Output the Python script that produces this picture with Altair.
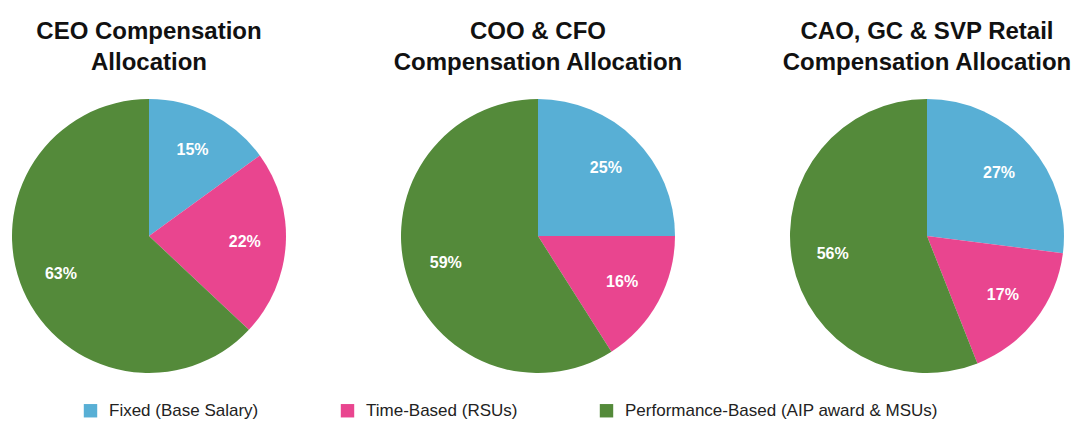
import altair as alt
import pandas as pd

charts = ["ceo", "coo_cfo", "cao_gc_svp"]
titles = [
    "CEO Compensation\nAllocation",
    "COO & CFO\nCompensation Allocation",
    "CAO, GC & SVP Retail\nCompensation Allocation",
]
categories = [
    "Fixed (Base Salary)",
    "Time-Based (RSUs)",
    "Performance-Based (AIP award & MSUs)",
]
colors = ["#58afd5", "#e9458f", "#548a3a"]

fixed = [15, 25, 27]
time_based = [22, 16, 17]
performance = [63, 59, 56]

rows = []
for i, c in enumerate(charts):
    for j, (cat, vals) in enumerate(zip(categories, [fixed, time_based, performance])):
        rows.append({"chart": c, "category": cat, "order": j, "value": vals[i]})
df = pd.DataFrame(rows)
title_df = pd.DataFrame({"chart": charts, "title": titles})

FONT = "Liberation Sans"

xscale = alt.Scale(type="point", domain=charts, range=[141, 919], padding=0)
tscale = alt.Scale(domain=[0, 100], range=[0, 6.283185307179586])

base = (
    alt.Chart(df)
    .transform_window(
        cum="sum(value)", groupby=["chart"], sort=[alt.SortField("order")]
    )
    .transform_calculate(
        start="datum.cum - datum.value",
        mid="datum.cum - datum.value / 2",
        label="datum.value + '%'",
    )
)

arcs = base.mark_arc(outerRadius=137).encode(
    x=alt.X("chart:N", scale=xscale, axis=None),
    y=alt.value(228),
    theta=alt.Theta("start:Q", scale=tscale),
    theta2=alt.Theta2("cum:Q"),
    color=alt.Color(
        "category:N",
        scale=alt.Scale(domain=categories, range=colors),
        legend=alt.Legend(
            orient="none",
            legendX=74,
            legendY=394,
            direction="horizontal",
            title=None,
            symbolType="square",
            symbolSize=180,
            symbolStrokeWidth=0,
            labelFontSize=17,
            labelFont=FONT,
            labelColor="#222222",
            labelLimit=0,
            columnPadding=80,
            labelOffset=10,
            padding=0,
        ),
    ),
)

labels = base.mark_text(
    font=FONT, fontSize=16, fontWeight="bold", color="white", align="center", baseline="middle"
).encode(
    x=alt.X("chart:N", scale=xscale, axis=None),
    y=alt.value(228),
    theta=alt.Theta("mid:Q", scale=tscale),
    radius=alt.value(96),
    text="label:N",
)

title_marks = alt.Chart(title_df).mark_text(
    font=FONT,
    fontSize=24,
    fontWeight="bold",
    color="#111111",
    align="center",
    baseline="alphabetic",
    lineBreak="\n",
    lineHeight=31,
).encode(
    x=alt.X("chart:N", scale=xscale, axis=None),
    y=alt.value(31),
    text="title:N",
)

chart = (
    alt.layer(arcs, labels, title_marks)
    .properties(
        width=1066,
        height=414,
        autosize=alt.AutoSizeParams(type="none"),
        padding=0,
    )
    .configure_view(stroke=None)
)

chart.save("out.html", embed_options={"renderer": "svg", "actions": False})
